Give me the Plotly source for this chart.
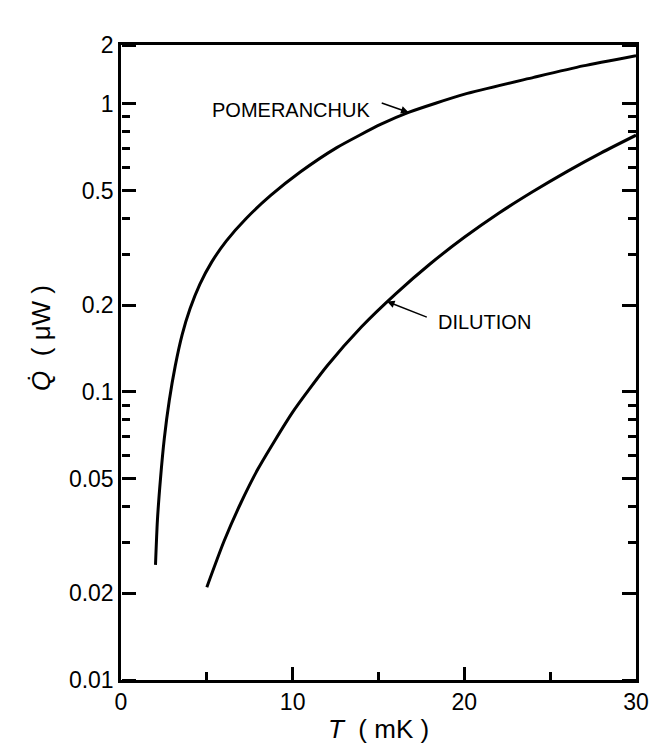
import plotly.graph_objects as go
import math

# Data
pom_T = [2.01, 2.12, 2.30, 2.52, 2.81, 3.16, 3.56, 4.02, 4.59, 5.28, 6.14, 7.29, 8.72, 10.44, 12.57, 15.15, 16.75, 20.02, 24.04, 26.91, 30.0]
pom_Q = [0.0251, 0.0357, 0.0499, 0.0687, 0.0931, 0.1231, 0.1577, 0.1942, 0.2361, 0.2821, 0.3344, 0.400, 0.4807, 0.5797, 0.7047, 0.8495, 0.9336, 1.080, 1.235, 1.354, 1.47]

dil_T = [5.0, 6.0, 7.0, 8.0, 10.0, 12.0, 14.0, 16.0, 18.0, 20.0, 22.0, 24.0, 26.0, 28.0, 30.0]
dil_Q = [0.021, 0.0303, 0.0414, 0.0543, 0.0851, 0.123, 0.168, 0.219, 0.278, 0.344, 0.417, 0.496, 0.583, 0.677, 0.778]

y_top = 1.60  # value at the top frame (labelled "2" in the reference)
y_tickvals = [0.01, 0.02, 0.05, 0.1, 0.2, 0.5, 1, y_top]
y_ticktext = ["0.01", "0.02", "0.05", "0.1", "0.2", "0.5", "1", "2"]
y_minor = [0.03, 0.04, 0.06, 0.07, 0.08, 0.09, 0.3, 0.4, 0.6, 0.7, 0.8, 0.9]
x_tickvals = [0, 10, 20, 30]
x_major_inner = [10, 20]
x_minor = [5, 15, 25]

FONT = "Liberation Sans"
yrange = [math.log10(0.01), math.log10(y_top)]
xrange_ = [0, 30]

fig = go.Figure()
fig.add_trace(go.Scatter(x=pom_T, y=pom_Q, mode="lines", line=dict(color="black", width=3, shape="spline", smoothing=0.6), hoverinfo="skip"))
fig.add_trace(go.Scatter(x=dil_T, y=dil_Q, mode="lines", line=dict(color="black", width=3, shape="spline", smoothing=0.6), hoverinfo="skip"))

tick_common = dict(tickcolor="black", tickwidth=2.5, showgrid=False, zeroline=False)

fig.update_layout(
    width=661, height=746,
    margin=dict(l=121, r=19, t=45, b=66),
    paper_bgcolor="white", plot_bgcolor="rgba(0,0,0,0)",
    showlegend=False,
    font=dict(family=FONT, color="black", size=20),
    # main axes: labels and frame
    xaxis=dict(
        range=xrange_, tickmode="array", tickvals=x_tickvals,
        ticks="", showline=True, linecolor="black", linewidth=2.5, mirror=True,
        tickfont=dict(size=23, family=FONT), showgrid=False, zeroline=False,
    ),
    yaxis=dict(
        type="log", range=yrange, tickmode="array", tickvals=y_tickvals, ticktext=y_ticktext,
        ticks="", showline=True, linecolor="black", linewidth=2.5, mirror=True,
        tickfont=dict(size=23, family=FONT), showgrid=False, zeroline=False,
    ),
    # tick axes pointing into the plot from the bottom edge
    xaxis2=dict(overlaying="x", side="top", anchor="free", position=0, range=xrange_,
                tickmode="array", tickvals=x_major_inner, ticks="outside", ticklen=13,
                showticklabels=False, showline=False, **tick_common),
    xaxis3=dict(overlaying="x", side="top", anchor="free", position=0, range=xrange_,
                tickmode="array", tickvals=x_minor, ticks="outside", ticklen=8,
                showticklabels=False, showline=False, **tick_common),
    # tick axes pointing into the plot from the left edge
    yaxis2=dict(overlaying="y", side="right", anchor="free", position=0, type="log", range=yrange,
                tickmode="array", tickvals=y_tickvals, ticks="outside", ticklen=14,
                showticklabels=False, showline=False, **tick_common),
    yaxis3=dict(overlaying="y", side="right", anchor="free", position=0, type="log", range=yrange,
                tickmode="array", tickvals=y_minor, ticks="outside", ticklen=8,
                showticklabels=False, showline=False, **tick_common),
    # tick axes pointing into the plot from the right edge
    yaxis4=dict(overlaying="y", side="left", anchor="free", position=1, type="log", range=yrange,
                tickmode="array", tickvals=y_tickvals, ticks="outside", ticklen=14,
                showticklabels=False, showline=False, **tick_common),
    yaxis5=dict(overlaying="y", side="left", anchor="free", position=1, type="log", range=yrange,
                tickmode="array", tickvals=y_minor, ticks="outside", ticklen=8,
                showticklabels=False, showline=False, **tick_common),
)
# invisible traces binding the overlay axes
for xa, ya in [("x2", "y2"), ("x3", "y3"), ("x", "y4"), ("x", "y5")]:
    fig.add_trace(go.Scatter(x=[None], y=[None], xaxis=xa, yaxis=ya, hoverinfo="skip", showlegend=False))

# Axis titles
fig.add_annotation(xref="paper", yref="paper", x=(381 - 121) / 521, y=(680 - 729) / 635,
                   text="<i>T</i>  ( mK )", showarrow=False, font=dict(size=26, family=FONT),
                   xanchor="center", yanchor="middle")
fig.add_annotation(xref="paper", yref="paper", x=(40 - 121) / 521, y=(680 - 338) / 635,
                   text="<i>Q̇</i>  ( μW )", showarrow=False, textangle=-90, font=dict(size=26, family=FONT),
                   xanchor="center", yanchor="middle")

# Curve labels
fig.add_annotation(x=9.9, y=math.log10(0.95), text="POMERANCHUK", showarrow=False,
                   font=dict(size=20, family=FONT), xanchor="center", yanchor="middle")
fig.add_annotation(x=16.75, y=math.log10(0.934), ax=15.1, ay=math.log10(1.01), axref="x", ayref="y",
                   text="", showarrow=True, arrowhead=2, arrowsize=1, arrowwidth=1.5, arrowcolor="black")
fig.add_annotation(x=21.2, y=math.log10(0.175), text="DILUTION", showarrow=False,
                   font=dict(size=20, family=FONT), xanchor="center", yanchor="middle")
fig.add_annotation(x=15.5, y=math.log10(0.206), ax=17.9, ay=math.log10(0.181), axref="x", ayref="y",
                   text="", showarrow=True, arrowhead=2, arrowsize=1, arrowwidth=1.5, arrowcolor="black")

fig.write_html("out.html")
